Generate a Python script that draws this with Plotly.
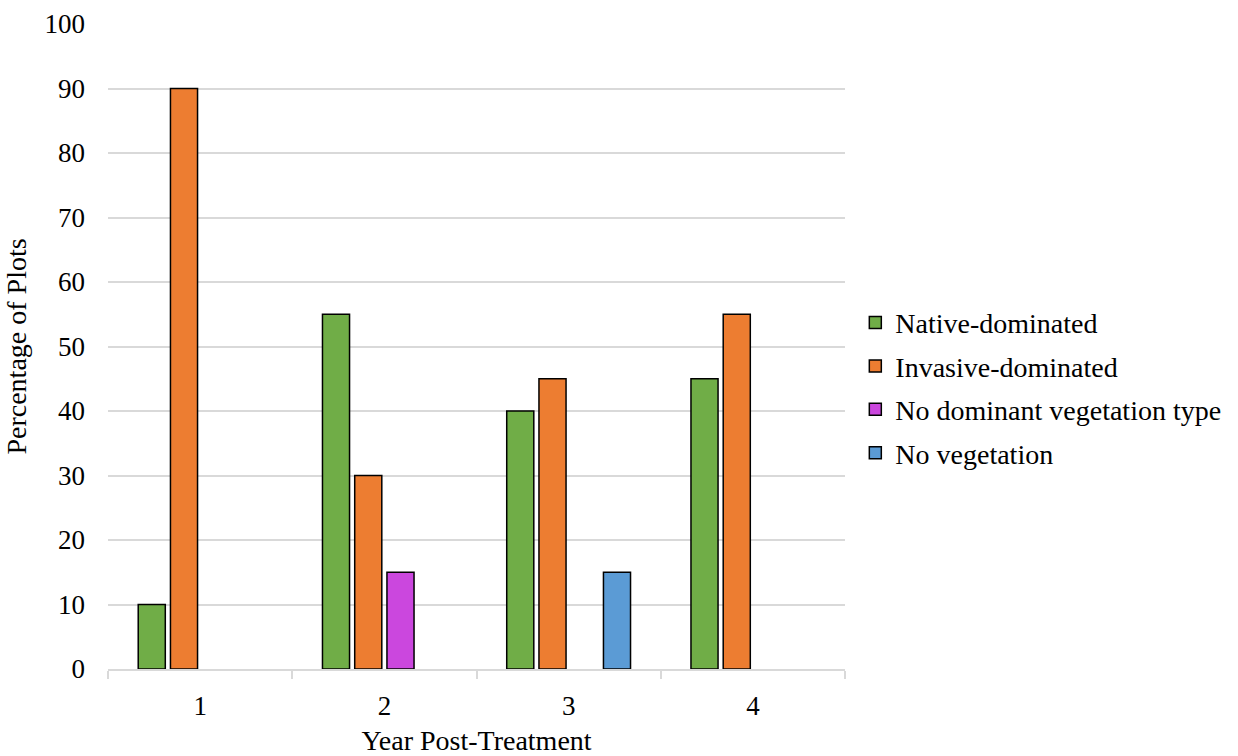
import plotly.graph_objects as go

years = ["1", "2", "3", "4"]
native = [10, 55, 40, 45]
invasive = [90, 30, 45, 55]
no_dominant = [0, 15, 0, 0]
no_vegetation = [0, 0, 15, 0]

series = [
    ("Native-dominated", native, "#70AD47"),
    ("Invasive-dominated", invasive, "#ED7D31"),
    ("No dominant vegetation type", no_dominant, "#CB47DE"),
    ("No vegetation", no_vegetation, "#5B9BD5"),
]

FONT = "Liberation Serif"
GRID = "#d9d9d9"

fig = go.Figure()
for name, vals, color in series:
    # zero-valued bars are left empty so no outline is drawn on the baseline
    fig.add_trace(go.Bar(
        name=name,
        legendgroup=name,
        x=years,
        y=[v if v != 0 else None for v in vals],
        marker=dict(color=color, line=dict(color="black", width=1.5)),
    ))

fig.update_layout(
    barmode="group",
    bargap=0.30,
    bargroupgap=0.16,
    width=1238,
    height=756,
    margin=dict(l=108, r=391, t=24, b=87),
    paper_bgcolor="white",
    plot_bgcolor="white",
    font=dict(family=FONT, size=27, color="black"),
    legend=dict(
        x=1.014, y=0.436, xanchor="left", yanchor="middle",
        font=dict(family=FONT, size=28, color="black"),
        tracegroupgap=4, itemwidth=30,
    ),
    xaxis=dict(
        type="category",
        showgrid=False,
        showline=True, linecolor=GRID, linewidth=1.5,
        ticks="outside", tickson="boundaries", ticklen=8, tickcolor=GRID, tickwidth=1.5,
        ticklabelstandoff=12,
        tickfont=dict(family=FONT, size=27),
        title=dict(text="Year Post-Treatment", font=dict(family=FONT, size=28), standoff=10),
        automargin=False,
    ),
    yaxis=dict(
        range=[0, 100], dtick=10,
        showgrid=True, gridcolor=GRID, gridwidth=1.5,
        zeroline=False, showline=False, ticks="",
        ticklabelstandoff=22,
        tickfont=dict(family=FONT, size=27),
        title=dict(text="Percentage of Plots", font=dict(family=FONT, size=28), standoff=9),
        automargin=False,
    ),
)

fig.write_html("out.html")
